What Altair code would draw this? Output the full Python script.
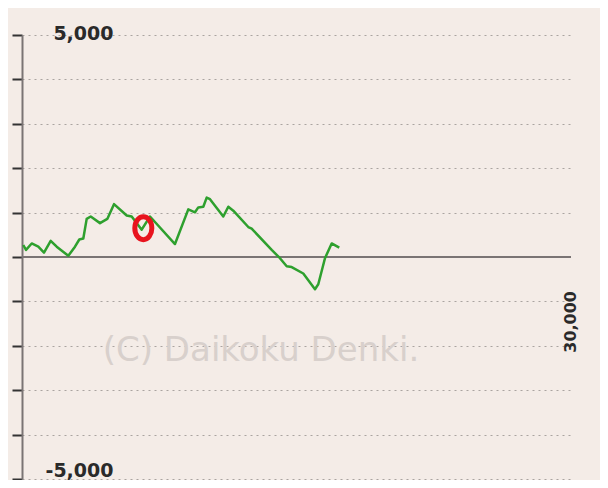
import altair as alt
import pandas as pd

# Line series (games played vs. medal difference)
games = [71, 219, 530, 891, 1202, 1568, 1896, 2530, 2896, 3131, 3350, 3535, 3754,
         4262, 4661, 5027, 5721, 5994, 6540, 6994, 8360, 9087, 9453, 9633, 9907,
         10092, 10273, 10999, 11273, 11546, 12366, 12551, 13644, 14097, 14464,
         14737, 15371, 16010, 16190, 16556, 16922, 17337]
diff = [270, 159, 305, 232, 100, 365, 232, 27, 232, 394, 416, 858, 912,
        763, 858, 1190, 934, 912, 615, 912, 292, 1073, 1007, 1117, 1133,
        1338, 1301, 912, 1133, 1044, 675, 637, 159, -27, -210,
        -226, -372, -726, -615, -27, 305, 210]

y_ticks = [-5000, -4000, -3000, -2000, -1000, 0, 1000, 2000, 3000, 4000, 5000]
y_domain = [-5000, 5000]
x_domain = [0, 30000]
x_label_values = [30000]
zero_values = [0]
marker_games = [6630]
marker_diff = [650]
watermark = ["(C) Daikoku Denki."]

df = pd.DataFrame({"games": games, "diff": diff})

xscale = alt.Scale(domain=x_domain, nice=False, zero=False)
yscale = alt.Scale(domain=y_domain, nice=False)

FONT = "DejaVu Sans"

zero_rule = alt.Chart(pd.DataFrame({"y": zero_values})).mark_rule(
    color="#7a7474", strokeWidth=2
).encode(
    y=alt.Y("y:Q", scale=yscale, axis=alt.Axis(
        values=y_ticks,
        title=None,
        grid=True,
        gridColor="#aaa4a0",
        gridDash=[2, 4],
        gridWidth=1,
        domainColor="#7a7474",
        domainWidth=2,
        tickColor="#333333",
        tickWidth=2,
        tickSize=10,
        labelExpr="abs(datum.value) == 5000 ? replace(format(datum.value, ','), '\u2212', '-') : ''",
        labelAlign="right",
        labelBaseline="middle",
        labelPadding=-101,
        labelOffset={"condition": {"test": "datum.value > 0", "value": -2}, "value": -9},
        labelFont=FONT,
        labelFontSize=19,
        labelFontWeight="bold",
        labelColor="#2a2a2a",
        labelOverlap=False,
        labelFlush=False,
    ))
)

watermark_layer = alt.Chart(pd.DataFrame({"t": watermark})).mark_text(
    font=FONT, fontSize=34, color="#d8d0cc", align="center", baseline="middle"
).encode(
    text="t:N",
    x=alt.value(239),
    y=alt.value(316),
)

line = alt.Chart(df).mark_line(
    color="#2ea02e", strokeWidth=2.5, strokeJoin="round"
).encode(
    x=alt.X("games:Q", scale=xscale, axis=None),
    y=alt.Y("diff:Q", scale=yscale),
)

x_label = alt.Chart(pd.DataFrame({"x": x_label_values, "y": zero_values})).mark_text(
    font=FONT, fontSize=16, fontWeight="bold", color="#2a2a2a", angle=270,
    align="right", baseline="middle", dx=-34
).encode(
    x=alt.X("x:Q", scale=xscale, axis=None),
    y=alt.Y("y:Q", scale=yscale),
    text=alt.Text("x:Q", format=","),
)

ellipse_path = "M 0 -1 A 0.74 1 0 1 1 0 1 A 0.74 1 0 1 1 0 -1 Z"
marker = alt.Chart(pd.DataFrame({"g": marker_games, "d": marker_diff})).mark_point(
    shape=ellipse_path, size=529, filled=False, stroke="#e8141e",
    strokeWidth=5, opacity=1
).encode(
    x=alt.X("g:Q", scale=xscale, axis=None),
    y=alt.Y("d:Q", scale=yscale),
)

chart = alt.layer(zero_rule, watermark_layer, line, x_label, marker).properties(
    width=549,
    height=444,
    autosize=alt.AutoSizeParams(type="none"),
    padding={"left": 14, "top": 27, "right": 29, "bottom": 1},
    background="#f4ece7",
).configure_view(stroke=None)

chart.save("out.html", embed_options={"renderer": "svg", "actions": False})
